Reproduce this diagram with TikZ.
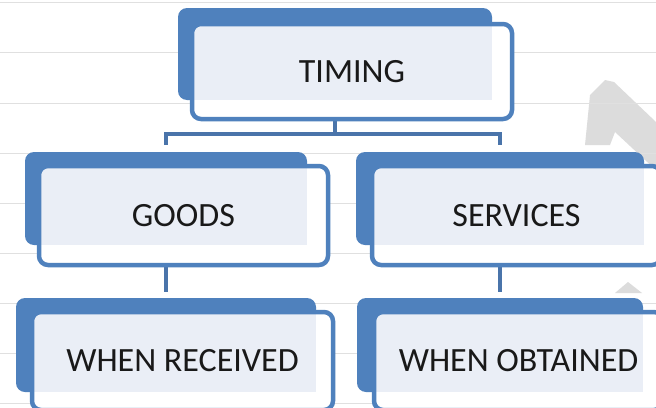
\documentclass[tikz,border=0pt]{standalone}
\usepackage{fontspec}
\setmainfont{Carlito}
\usetikzlibrary{fit}
\pgfdeclarelayer{canvas}
\pgfdeclarelayer{bg}
\pgfsetlayers{canvas,bg,main}
\definecolor{sablue}{HTML}{4F81BD}
\definecolor{saconn}{HTML}{4A74AA}
\definecolor{salight}{HTML}{EAEEF6}
\definecolor{saline}{HTML}{E0E0E0}
\definecolor{samark}{HTML}{DCDCDC}
\tikzset{
  backbox/.style={fill=sablue, rounded corners=9pt, inner sep=0pt},
  frontbox/.style={draw=sablue, line width=4.5pt, rounded corners=9pt, inner sep=0pt},
  boxtext/.style={font=\fontsize{34}{40}\selectfont, text=black!90, inner sep=0pt},
  conn/.style={draw=saconn, line width=4pt},
  bgline/.style={draw=saline, line width=0.9pt},
  watermark/.style={fill=samark},
}
% name, back corner 1, back corner 2, front corner 1, front corner 2, text
\newcommand{\mybox}[6]{%
  \node[fit={(#2)(#3)}, backbox] (#1B) {};
  \fill[white, rounded corners=9pt] (#4) rectangle (#5);
  \begin{scope}
    \clip[rounded corners=9pt] (#4) rectangle (#5);
    \fill[salight] (#2) rectangle (#3);
  \end{scope}
  \node[fit={(#4)(#5)}, frontbox, label={[boxtext]center:#6}] (#1) {};
}
\begin{document}
\begin{tikzpicture}[x=1pt, y=-1pt]
\useasboundingbox (0,0) rectangle (656,407);
\begin{pgfonlayer}{canvas}
  \fill[white] (0,0) rectangle (656,407);
  \fill[watermark] (585,145) -- (590,95) -- (605,80) -- (614,82) -- (656,122) -- (656,170)
    -- (645,160) -- (615,132) -- (610,145) -- cycle;
  \fill[watermark] (615,293) -- (628,282) -- (642,293) -- cycle;
  \foreach \yy in {2,52,103,153,203,253,303,353,403}
    \draw[bgline] (0,\yy) -- (656,\yy);
\end{pgfonlayer}

\mybox{timing}{178,8}{492,100}{192,24}{512,119}{TIMING}
\mybox{goods}{25,152}{307,245}{39,166}{328,265}{GOODS}
\mybox{services}{356,152}{644,245}{372,166}{661,265}{SERVICES}
\mybox{received}{16,298}{316,392}{32,312}{333,410}{WHEN RECEIVED}
\mybox{obtained}{357,298}{643,392}{374,312}{663,410}{WHEN OBTAINED}

\begin{pgfonlayer}{bg}
  \draw[conn, shorten >=7pt] (timingB.south) -- ++(0,34) -| (goodsB.north);
  \draw[conn, shorten >=7pt] (timingB.south) -- ++(0,34) -| (servicesB.north);
  \draw[conn, shorten >=6pt] (goodsB.south) -- (goodsB.south |- receivedB.north);
  \draw[conn, shorten >=6pt] (servicesB.south) -- (servicesB.south |- obtainedB.north);
\end{pgfonlayer}
\end{tikzpicture}
\end{document}
